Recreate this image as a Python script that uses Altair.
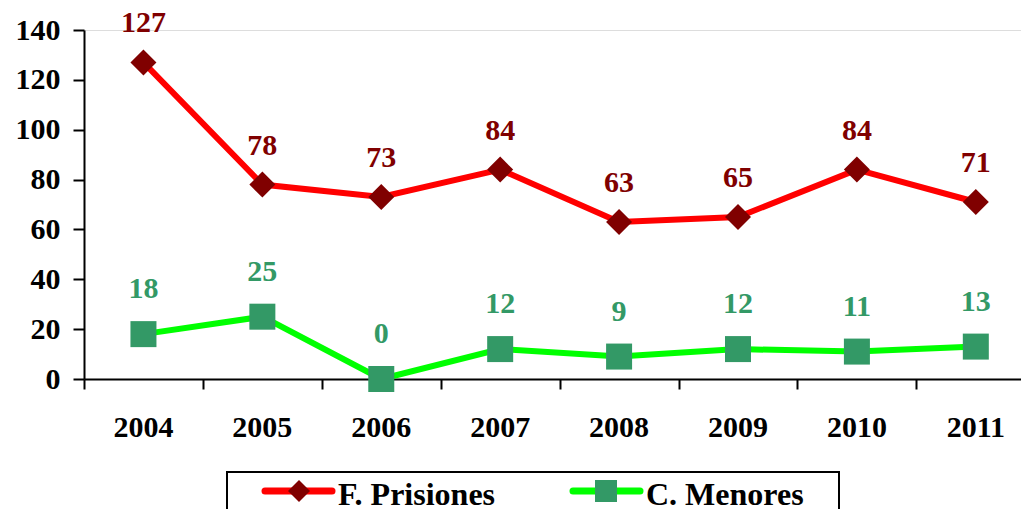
import altair as alt
import pandas as pd

years = [2004, 2005, 2006, 2007, 2008, 2009, 2010, 2011]
prisiones = [127, 78, 73, 84, 63, 65, 84, 71]
menores = [18, 25, 0, 12, 9, 12, 11, 13]
series_names = ["F. Prisiones", "C. Menores"]
y_ticks = [0, 20, 40, 60, 80, 100, 120, 140]
x_tick_bounds = [2003.5, 2004.5, 2005.5, 2006.5, 2007.5, 2008.5, 2009.5, 2010.5]

FONT = "Liberation Serif, DejaVu Serif, serif"

df = pd.DataFrame({
    "year": years * 2,
    "value": prisiones + menores,
    "series": [series_names[0]] * len(years) + [series_names[1]] * len(years),
})
years_df = pd.DataFrame({"year": years})
legend_df = pd.DataFrame({"series": series_names})

xscale = alt.Scale(domain=[2003.5, 2011.38], nice=False, zero=False)
yscale = alt.Scale(domain=[0, 140], nice=False)

x_axis = alt.Axis(values=x_tick_bounds, labels=False, tickSize=10, tickWidth=2,
                  tickColor="black", domainColor="black", domainWidth=2,
                  grid=False, title=None)
y_axis = alt.Axis(values=y_ticks, tickSize=11, tickWidth=2, tickColor="black",
                  domainColor="black", domainWidth=2, grid=False, title=None,
                  labelFont=FONT, labelFontWeight="bold", labelFontSize=30,
                  labelColor="black", labelPadding=13)

base = alt.Chart(df)
X = alt.X("year:Q", scale=xscale, axis=x_axis)
Y = alt.Y("value:Q", scale=yscale, axis=y_axis)

styles = {
    "F. Prisiones": dict(line="#FF0000", marker="#800000", shape="diamond", label="#800000", dy=-30),
    "C. Menores": dict(line="#00FF00", marker="#339966", shape="square", label="#339966", dy=-36),
}

layers = []
for name in series_names:
    st = styles[name]
    sub = base.transform_filter(alt.datum.series == name)
    layers.append(sub.mark_line(color=st["line"], strokeWidth=6).encode(x=X, y=Y))
for name in series_names:
    st = styles[name]
    sub = base.transform_filter(alt.datum.series == name)
    layers.append(sub.mark_point(shape=st["shape"], filled=True, size=676,
                                 color=st["marker"], opacity=1).encode(x=X, y=Y))
    layers.append(sub.mark_text(font=FONT, fontWeight="bold", fontSize=30,
                                color=st["label"], dy=st["dy"], baseline="alphabetic")
                  .encode(x=X, y=Y, text=alt.Text("value:Q")))

# year labels centered in each category band
layers.append(alt.Chart(years_df).mark_text(font=FONT, fontWeight="bold", fontSize=30,
                                            color="black", baseline="alphabetic")
              .encode(x=alt.X("year:Q", scale=xscale, axis=x_axis),
                      y=alt.value(407), text=alt.Text("year:N")))

# legend box
layers.append(alt.Chart(alt.Data(values=[{"box": 1}])).mark_rect(
    fill="white", stroke="black", strokeWidth=2)
    .encode(x=alt.value(143), x2=alt.value(755), y=alt.value(442), y2=alt.value(500)))

leg_pos = {
    "F. Prisiones": dict(x0=181, x1=248, xm=215, xt=254),
    "C. Menores": dict(x0=489, x1=556, xm=522, xt=562),
}
for name in series_names:
    st = styles[name]
    p = leg_pos[name]
    lsub = alt.Chart(legend_df).transform_filter(alt.datum.series == name)
    layers.append(lsub.mark_rule(color=st["line"], strokeWidth=7, strokeCap="round")
                  .encode(x=alt.value(p["x0"]), x2=alt.value(p["x1"]), y=alt.value(461)))
    layers.append(lsub.mark_point(shape=st["shape"], filled=True, size=484,
                                  color=st["marker"], opacity=1)
                  .encode(x=alt.value(p["xm"]), y=alt.value(461)))
    layers.append(lsub.mark_text(font=FONT, fontWeight="bold", fontSize=32, color="black",
                                 align="left", baseline="alphabetic")
                  .encode(x=alt.value(p["xt"]), y=alt.value(475), text=alt.Text("series:N")))

chart = alt.layer(*layers).properties(
    width=937, height=349,
    autosize=alt.AutoSizeParams(type="none"),
    padding={"left": 76, "top": 22, "right": 0, "bottom": 130},
).configure_view(stroke=None).configure(background="white")

chart.save("out.html", embed_options={"renderer": "svg", "actions": False})
